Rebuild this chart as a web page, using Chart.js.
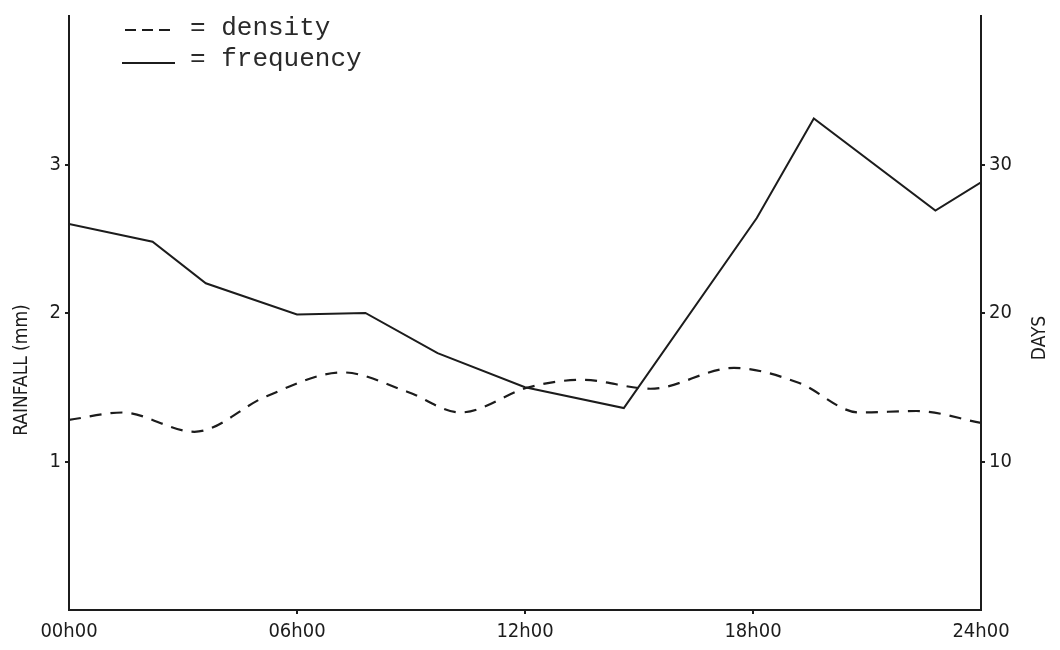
<!DOCTYPE html>
<html>
<head>
<meta charset="utf-8">
<script src="https://cdn.jsdelivr.net/npm/chart.js@4.4.1/dist/chart.umd.min.js"></script>
<style>
  body { margin: 0; background: #ffffff; }
  #wrap { width: 1060px; height: 650px; }
</style>
</head>
<body>
<div id="wrap"><canvas id="graphique" width="1060" height="650"></canvas></div>
<script>
// valeurs
const freqHours = [0, 2.2, 3.6, 6.0, 7.8, 9.7, 12.0, 14.6, 18.1, 19.6, 22.8, 24];
const freqDays = [26.0, 24.8, 22.0, 19.9, 20.0, 17.3, 15.0, 13.6, 26.4, 33.1, 26.9, 28.8];

const densHours = [0, 1.4, 3.3, 5.2, 7.2, 8.9, 10.3, 12.1, 13.5, 15.3, 17.5, 19.2, 20.8, 22.3, 24];
const densMm = [1.28, 1.33, 1.20, 1.44, 1.60, 1.47, 1.33, 1.50, 1.55, 1.49, 1.63, 1.53, 1.33, 1.34, 1.26];

const xTickLabels = ['00h00', '06h00', '12h00', '18h00', '24h00'];
const legendLabels = ['= density', '= frequency'];
const leftTitle = 'RAINFALL (mm)';
const rightTitle = 'DAYS';

const ink = '#1c1c1c';
const tickFont = "'Liberation Sans Narrow', 'DejaVu Sans Condensed', 'Liberation Sans', sans-serif";

function toPoints(xs, ys) {
    const pts = [];
    for (let i = 0; i < xs.length; i++) {
        pts.push({ x: xs[i], y: ys[i] });
    }
    return pts;
}

// pas de petit trait aux extremites des axes
function tickColor(min, max) {
    return (c) => (c.tick && (c.tick.value === min || c.tick.value === max)) ? 'rgba(0,0,0,0)' : ink;
}

// titres des axes + legende "machine a ecrire"
const decorPlugin = {
    id: 'decor',
    afterDraw(chart) {
        const ctx = chart.ctx;
        ctx.save();
        ctx.fillStyle = ink;

        // titre gauche
        ctx.font = "19px " + tickFont;
        ctx.textAlign = 'center';
        ctx.textBaseline = 'middle';
        ctx.save();
        ctx.translate(22, 370);
        ctx.rotate(-Math.PI / 2);
        ctx.fillText(leftTitle, 0, 0);
        ctx.restore();

        // titre droit
        ctx.save();
        ctx.translate(1040, 338);
        ctx.rotate(-Math.PI / 2);
        ctx.fillText(rightTitle, 0, 0);
        ctx.restore();

        // legende
        ctx.strokeStyle = ink;
        ctx.lineWidth = 2;
        ctx.setLineDash([11, 6]);
        ctx.beginPath();
        ctx.moveTo(125, 30);
        ctx.lineTo(172, 30);
        ctx.stroke();
        ctx.setLineDash([]);
        ctx.beginPath();
        ctx.moveTo(122, 63);
        ctx.lineTo(175, 63);
        ctx.stroke();

        ctx.font = "26px 'Liberation Mono', 'DejaVu Sans Mono', monospace";
        ctx.textAlign = 'left';
        ctx.fillStyle = '#2a2a2a';
        ctx.fillText(legendLabels[0], 190, 28);
        ctx.fillText(legendLabels[1], 190, 59);
        ctx.restore();
    }
};

const ctx = document.getElementById('graphique').getContext('2d');

const data = {
    datasets: [
        {
            label: 'frequency',
            data: toPoints(freqHours, freqDays),
            yAxisID: 'yDays',
            borderColor: ink,
            borderWidth: 2,
            pointRadius: 0,
            fill: false,
            tension: 0
        },
        {
            label: 'density',
            data: toPoints(densHours, densMm),
            yAxisID: 'yMm',
            borderColor: ink,
            borderWidth: 2.2,
            borderDash: [12, 9],
            pointRadius: 0,
            fill: false,
            cubicInterpolationMode: 'monotone'
        }
    ]
};

const options = {
    responsive: false,
    animation: false,
    layout: { padding: { top: 15, left: 0, right: 0, bottom: 0 } },
    plugins: {
        legend: { display: false },
        tooltip: { enabled: false }
    },
    scales: {
        x: {
            type: 'linear',
            min: 0,
            max: 24,
            afterFit(scale) { scale.height = 40; },
            afterBuildTicks(scale) {
                scale.ticks = xTickLabels.map((t, i) => ({ value: i * 6 }));
            },
            ticks: {
                color: ink,
                font: { family: tickFont, size: 20 },
                padding: 6,
                maxRotation: 0,
                callback: (v) => xTickLabels[v / 6]
            },
            grid: { drawOnChartArea: false, drawTicks: true, tickLength: 4, color: tickColor(0, 24), lineWidth: 2 },
            border: { display: true, color: ink, width: 2 }
        },
        yMm: {
            type: 'linear',
            position: 'left',
            min: 0,
            max: 4,
            afterFit(scale) { scale.width = 69; },
            ticks: {
                stepSize: 1,
                color: ink,
                font: { family: tickFont, size: 20 },
                padding: 4,
                callback: (v) => (v === 0 || v === 4) ? '' : v
            },
            grid: { drawOnChartArea: false, drawTicks: true, tickLength: 4, color: tickColor(0, 4), lineWidth: 2 },
            border: { display: true, color: ink, width: 2 }
        },
        yDays: {
            type: 'linear',
            position: 'right',
            min: 0,
            max: 40,
            afterFit(scale) { scale.width = 79; },
            ticks: {
                stepSize: 10,
                color: ink,
                font: { family: tickFont, size: 20 },
                padding: 4,
                callback: (v) => (v === 0 || v === 40) ? '' : v
            },
            grid: { drawOnChartArea: false, drawTicks: true, tickLength: 4, color: tickColor(0, 40), lineWidth: 2 },
            border: { display: true, color: ink, width: 2 }
        }
    }
};

const myChart = new Chart(ctx, {
    type: 'line',
    data: data,
    options: options,
    plugins: [decorPlugin]
});
</script>
</body>
</html>
